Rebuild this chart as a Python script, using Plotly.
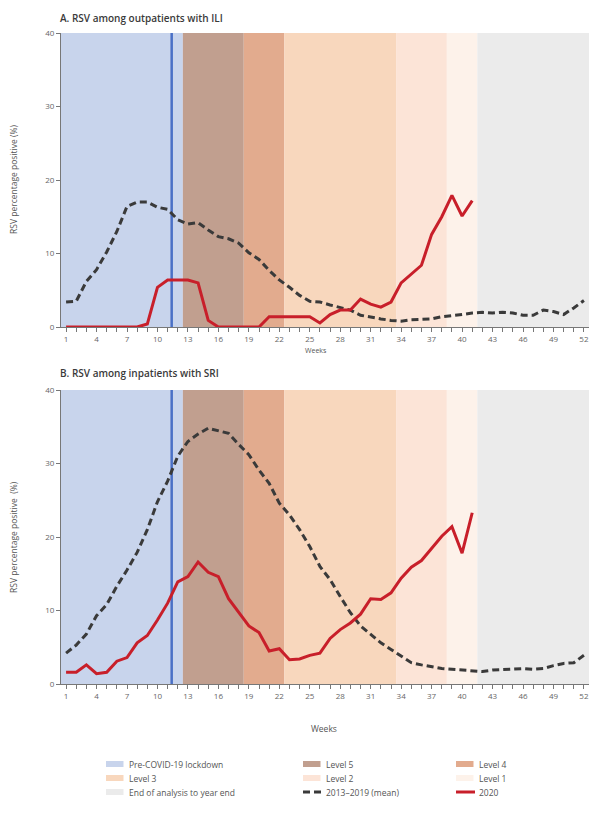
import plotly.graph_objects as go

weeks = list(range(1, 53))
weeks_2020 = list(range(1, 42))

# Panel A: outpatients with ILI
ili_mean = [3.4, 3.5, 6.2, 7.8, 10.2, 13.0, 16.4, 17.0, 17.0, 16.3, 16.0, 14.6, 14.0, 14.2, 13.2, 12.3,
            12.0, 11.4, 10.1, 9.2, 7.7, 6.4, 5.4, 4.3, 3.5, 3.4, 3.0, 2.6, 2.3, 1.6, 1.3, 1.1, 0.9, 0.8,
            1.0, 1.0, 1.1, 1.4, 1.5, 1.7, 1.9, 2.0, 1.9, 2.0, 1.9, 1.6, 1.6, 2.3, 2.1, 1.7, 2.6, 3.6]
ili_2020 = [0, 0, 0, 0, 0, 0, 0, 0, 0.4, 5.4, 6.4, 6.4, 6.4, 6.0, 0.9, 0, 0, 0, 0, 0, 1.4, 1.4, 1.4,
            1.4, 1.4, 0.55, 1.7, 2.3, 2.3, 3.8, 3.1, 2.7, 3.4, 6.0, 7.2, 8.4, 12.6, 15.0, 17.9, 15.1, 17.2]

# Panel B: inpatients with SRI
sri_mean = [4.2, 5.3, 6.8, 9.3, 10.8, 13.3, 15.5, 17.9, 21.0, 24.8, 27.6, 31.0, 33.0, 34.0, 34.8, 34.5,
            34.1, 32.6, 31.2, 29.1, 27.3, 24.6, 23.0, 21.0, 18.7, 16.0, 14.2, 11.9, 9.7, 7.9, 6.7, 5.6,
            4.7, 3.8, 2.9, 2.6, 2.3, 2.1, 2.0, 1.9, 1.7, 1.7, 1.9, 2.0, 2.0, 2.1, 2.0, 2.1, 2.5, 2.8, 2.9, 3.9]
sri_2020 = [1.6, 1.6, 2.6, 1.4, 1.6, 3.1, 3.6, 5.6, 6.6, 8.7, 11.0, 13.9, 14.6, 16.6, 15.2, 14.6, 11.6,
            9.7, 7.9, 7.0, 4.5, 4.8, 3.3, 3.4, 3.9, 4.2, 6.2, 7.4, 8.3, 9.5, 11.6, 11.5, 12.4, 14.4, 15.9,
            16.8, 18.5, 20.1, 21.4, 17.8, 23.3]

# Restriction periods (week boundaries)
period_names = ["Pre-COVID-19 lockdown", "Level 5", "Level 4", "Level 3", "Level 2", "Level 1",
                "End of analysis to year end"]
period_start = [0.5, 12.5, 18.5, 22.5, 33.5, 38.5, 41.5]
period_end = [12.5, 18.5, 22.5, 33.5, 38.5, 41.5, 52.5]
period_color = ["#c8d4ec", "#c19f8f", "#e2ab8e", "#f8d7bd", "#fce4d7", "#fdf2ea", "#ebebeb"]
lockdown_week = 11.4

x_ticks = list(range(1, 53, 3))
y_ticks = [0, 10, 20, 30, 40]

RED = "#c81f2a"
DARK = "#3a3a3a"
BLUE = "#4a70c6"
FONT = "Open Sans"

fig = go.Figure()
fig.add_trace(go.Scatter(x=weeks, y=ili_mean, mode="lines", line=dict(color=DARK, width=3, dash="7px,4px"),
                         xaxis="x", yaxis="y", showlegend=False))
fig.add_trace(go.Scatter(x=weeks_2020, y=ili_2020, mode="lines", line=dict(color=RED, width=3),
                         xaxis="x", yaxis="y", showlegend=False))
fig.add_trace(go.Scatter(x=weeks, y=sri_mean, mode="lines", line=dict(color=DARK, width=3, dash="7px,4px"),
                         xaxis="x2", yaxis="y2", showlegend=False))
fig.add_trace(go.Scatter(x=weeks_2020, y=sri_2020, mode="lines", line=dict(color=RED, width=3),
                         xaxis="x2", yaxis="y2", showlegend=False))

shapes = []
for xr, yr in (("x", "y"), ("x2", "y2")):
    for s, e, c in zip(period_start, period_end, period_color):
        shapes.append(dict(type="rect", xref=xr, yref=yr + " domain", x0=s, x1=e, y0=0, y1=1,
                           fillcolor=c, line=dict(width=0), layer="below"))
    shapes.append(dict(type="line", xref=xr, yref=yr + " domain", x0=lockdown_week, x1=lockdown_week,
                       y0=0, y1=1, line=dict(color=BLUE, width=2.5), layer="below"))

axis_common = dict(range=[0.5, 52.5], tickvals=x_ticks, ticks="outside", ticklen=4, tickcolor="#777",
                   showline=True, linecolor="#777", linewidth=1, showgrid=False, zeroline=False,
                   tickfont=dict(size=8, color="#666", family=FONT),
                   minor=dict(ticks="outside", dtick=1, tick0=1, ticklen=4, tickcolor="#777", showgrid=False))
yaxis_common = dict(range=[0, 40], tickvals=y_ticks, ticks="outside", ticklen=4, tickcolor="#777",
                    showline=True, linecolor="#777", linewidth=1, showgrid=False, zeroline=False,
                    tickfont=dict(size=8, color="#666", family=FONT))

W, H = 616, 813
L, R, T, B = 61, 27, 33, 129
pw, ph = W - L - R, H - T - B

def px(xp):
    return (xp - L) / pw

def py(yp):
    return (H - B - yp) / ph

top_dom = [py(327), 1.0]
bot_dom = [0.0, py(390)]

annotations = [
    dict(text="A. RSV among outpatients with ILI", x=px(58), y=py(18), xref="paper", yref="paper",
         xanchor="left", yanchor="middle", showarrow=False,
         font=dict(size=10, color="#3a3a3a", family=FONT, weight=600)),
    dict(text="B. RSV among inpatients with SRI", x=px(58), y=py(373), xref="paper", yref="paper",
         xanchor="left", yanchor="middle", showarrow=False,
         font=dict(size=10, color="#3a3a3a", family=FONT, weight=600)),
    dict(text="RSV percentage positive (%)", x=px(13), y=py(180), xref="paper", yref="paper",
         textangle=-90, showarrow=False, xanchor="center", yanchor="middle",
         font=dict(size=8.5, color="#555", family=FONT)),
    dict(text="RSV percentage positive  (%)", x=px(13), y=py(537), xref="paper", yref="paper",
         textangle=-90, showarrow=False, xanchor="center", yanchor="middle",
         font=dict(size=8.5, color="#555", family=FONT)),
    dict(text="Weeks", x=px(316), y=py(350), xref="paper", yref="paper", showarrow=False,
         xanchor="center", yanchor="middle", font=dict(size=7, color="#555", family=FONT)),
    dict(text="Weeks", x=px(324), y=py(728), xref="paper", yref="paper", showarrow=False,
         xanchor="center", yanchor="middle", font=dict(size=8.5, color="#555", family=FONT)),
]

# Manual legend (3 columns)
legend_items = [
    ("Pre-COVID-19 lockdown", "rect", period_color[0]),
    ("Level 5", "rect", period_color[1]),
    ("Level 4", "rect", period_color[2]),
    ("Level 3", "rect", period_color[3]),
    ("Level 2", "rect", period_color[4]),
    ("Level 1", "rect", period_color[5]),
    ("End of analysis to year end", "rect", period_color[6]),
    ("2013\u20132019 (mean)", "dash", DARK),
    ("2020", "line", RED),
]
col_x = [106, 303, 456]
row_y = [764, 778, 792]
for i, (name, kind, col) in enumerate(legend_items):
    cx = col_x[i % 3]
    ry = row_y[i // 3]
    if kind == "rect":
        shapes.append(dict(type="rect", xref="paper", yref="paper", x0=px(cx), x1=px(cx + 17.5),
                           y0=py(ry + 3), y1=py(ry - 3), fillcolor=col, line=dict(width=0)))
    elif kind == "dash":
        shapes.append(dict(type="line", xref="paper", yref="paper", x0=px(cx), x1=px(cx + 18),
                           y0=py(ry), y1=py(ry), line=dict(color=col, width=3, dash="7px,4px")))
    else:
        shapes.append(dict(type="line", xref="paper", yref="paper", x0=px(cx), x1=px(cx + 19),
                           y0=py(ry), y1=py(ry), line=dict(color=col, width=3)))
    annotations.append(dict(text=name, x=px(cx + 21), y=py(ry), xref="paper", yref="paper",
                            xanchor="left", yanchor="middle", showarrow=False,
                            font=dict(size=8.5, color="#555", family=FONT)))

fig.update_layout(
    width=W, height=H, autosize=False,
    margin=dict(l=L, r=R, t=T, b=B),
    paper_bgcolor="white", plot_bgcolor="white",
    xaxis=dict(axis_common, anchor="y"),
    yaxis=dict(yaxis_common, domain=top_dom, anchor="x"),
    xaxis2=dict(axis_common, anchor="y2"),
    yaxis2=dict(yaxis_common, domain=bot_dom, anchor="x2"),
    shapes=shapes, annotations=annotations,
    showlegend=False,
    font=dict(family=FONT),
)

fig.write_html("out.html", config={"displayModeBar": False},
               post_script="document.body.style.margin='0px';")
